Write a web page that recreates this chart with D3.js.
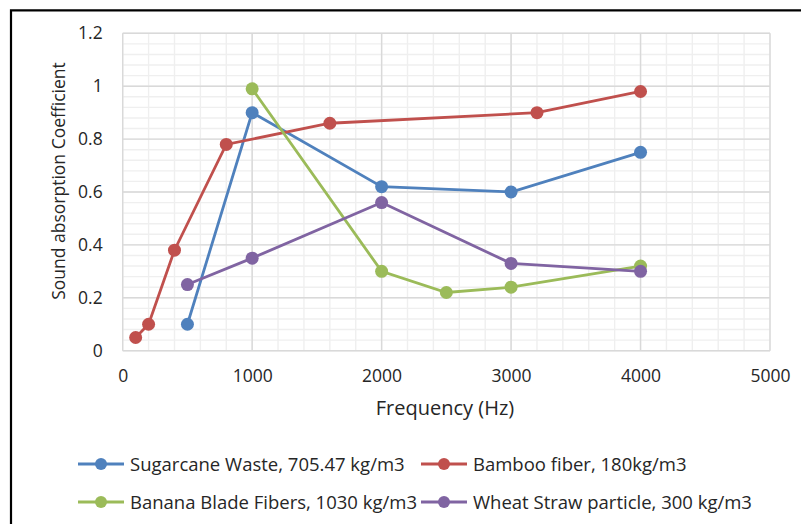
<!DOCTYPE html>
<html>
<head>
<meta charset="utf-8">
<script src="https://cdn.jsdelivr.net/npm/d3@7"></script>
<style>
  body { margin: 0; background: #fff; }
  text { font-family: "Open Sans", "Noto Sans", sans-serif; fill: #262626; }
</style>
</head>
<body>
<script>
// series data
var sugarcaneX = [500, 1000, 2000, 3000, 4000]
var sugarcaneY = [0.1, 0.9, 0.62, 0.6, 0.75]
var bambooX = [100, 200, 400, 800, 1600, 3200, 4000]
var bambooY = [0.05, 0.1, 0.38, 0.78, 0.86, 0.9, 0.98]
var bananaX = [1000, 2000, 2500, 3000, 4000]
var bananaY = [0.99, 0.3, 0.22, 0.24, 0.32]
var wheatX = [500, 1000, 2000, 3000, 4000]
var wheatY = [0.25, 0.35, 0.56, 0.33, 0.3]

var seriesNames = ["Sugarcane Waste, 705.47 kg/m3", "Bamboo fiber, 180kg/m3",
                   "Banana Blade Fibers, 1030 kg/m3", "Wheat Straw particle, 300 kg/m3"]
var xTicks = [0, 1000, 2000, 3000, 4000, 5000]
var yTicks = [0, 0.2, 0.4, 0.6, 0.8, 1, 1.2]

var colors = ["#4F81BD", "#C0504D", "#9BBB59", "#8064A2"]

function zip(xs, ys) {
  let out = []
  for (let i = 0; i < xs.length; i++) out.push({x: xs[i], y: ys[i]})
  return out
}
var series = [zip(sugarcaneX, sugarcaneY), zip(bambooX, bambooY),
              zip(bananaX, bananaY), zip(wheatX, wheatY)]

var width = 801, height = 524
var margin = {top: 33.3, right: 31, bottom: 173.3, left: 122.7}

var svg = d3.select("body").append("svg")
  .attr("width", width).attr("height", height)

// outer frame (only top and left edges are inside the picture)
svg.append("path")
  .attr("d", "M11,524 L11,10.3 L801,10.3")
  .attr("fill", "none").attr("stroke", "#000").attr("stroke-width", 2.2)

var x = d3.scaleLinear().domain([0, 5000]).range([margin.left, width - margin.right])
var y = d3.scaleLinear().domain([0, 1.2]).range([height - margin.bottom, margin.top])

// minor grid
var g = svg.append("g")
g.selectAll(".vminor").data(d3.range(0, 5001, 200)).enter().append("line")
  .attr("x1", d => x(d)).attr("x2", d => x(d))
  .attr("y1", y(0)).attr("y2", y(1.2))
  .attr("stroke", "#efefef").attr("stroke-width", 1.4)
g.selectAll(".hminor").data(d3.range(0, 31).map(i => i * 0.04)).enter().append("line")
  .attr("x1", x(0)).attr("x2", x(5000))
  .attr("y1", d => y(d)).attr("y2", d => y(d))
  .attr("stroke", "#efefef").attr("stroke-width", 1.4)
// major grid
g.selectAll(".vmajor").data(xTicks).enter().append("line")
  .attr("x1", d => x(d)).attr("x2", d => x(d))
  .attr("y1", y(0)).attr("y2", y(1.2))
  .attr("stroke", "#d9d9d9").attr("stroke-width", 1.4)
g.selectAll(".hmajor").data(yTicks).enter().append("line")
  .attr("x1", x(0)).attr("x2", x(5000))
  .attr("y1", d => y(d)).attr("y2", d => y(d))
  .attr("stroke", "#d9d9d9").attr("stroke-width", 1.4)

// axes
var xAxis = svg.append("g")
  .attr("transform", "translate(0," + y(0) + ")")
  .call(d3.axisBottom(x).tickValues(xTicks).tickSize(0).tickPadding(18.5).tickFormat(d3.format("d")))
xAxis.select(".domain").remove()
xAxis.selectAll("text").style("font-size", "17.5px").attr("fill", "#262626")

var yAxis = svg.append("g")
  .attr("transform", "translate(" + x(0) + ",0)")
  .call(d3.axisLeft(y).tickValues(yTicks).tickSize(0).tickPadding(20).tickFormat(d => d3.format("")(+d.toFixed(1))))
yAxis.select(".domain").remove()
yAxis.selectAll("text").style("font-size", "17.5px").attr("fill", "#262626")

// axis titles
svg.append("text")
  .attr("x", 445).attr("y", 415)
  .attr("text-anchor", "middle").style("font-size", "20px")
  .text("Frequency (Hz)")
svg.append("text")
  .attr("transform", "translate(65,181) rotate(-90)")
  .attr("text-anchor", "middle").style("font-size", "17.5px")
  .text("Sound absorption Coefficient")

// lines and markers
var line = d3.line().x(d => x(d.x)).y(d => y(d.y))
series.forEach(function(s, i) {
  svg.append("path")
    .attr("d", line(s))
    .attr("fill", "none").attr("stroke", colors[i]).attr("stroke-width", 2.8)
  svg.selectAll(".pt" + i).data(s).enter().append("circle")
    .attr("cx", d => x(d.x)).attr("cy", d => y(d.y))
    .attr("r", 6.5).attr("fill", colors[i])
})

// legend
var legendPos = [[78, 464], [421, 464], [78, 502], [421, 502]]
seriesNames.forEach(function(name, i) {
  var lx = legendPos[i][0], ly = legendPos[i][1]
  svg.append("line")
    .attr("x1", lx).attr("x2", lx + 46).attr("y1", ly).attr("y2", ly)
    .attr("stroke", colors[i]).attr("stroke-width", 2.8)
  svg.append("circle").attr("cx", lx + 23).attr("cy", ly).attr("r", 6).attr("fill", colors[i])
  svg.append("text")
    .attr("x", lx + 52).attr("y", ly + 6.5)
    .style("font-size", "18.5px")
    .text(name)
})
</script>
</body>
</html>
